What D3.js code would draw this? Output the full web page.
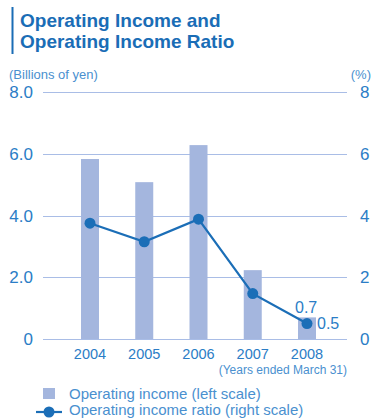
<!DOCTYPE html>
<html>
<head>
<meta charset="utf-8">
<script src="https://cdn.jsdelivr.net/npm/d3@7/dist/d3.min.js"></script>
<style>
  html, body { margin: 0; padding: 0; background: #fff; }
  svg { display: block; font-family: "Liberation Sans", Arial, Helvetica, sans-serif; }
</style>
</head>
<body>
<svg id="chart" width="372" height="418"></svg>
<script>
// Fiscal years (ended March 31)
const years = ["2004", "2005", "2006", "2007", "2008"];
// Operating income, billions of yen (left scale)
const operatingIncome = [5.83, 5.08, 6.28, 2.23, 0.7];
// Operating income ratio, % (right scale)
const operatingRatio = [3.75, 3.15, 3.88, 1.47, 0.5];
// Axis ticks
const leftTicks = [0, 2, 4, 6, 8];
const leftTickLabels = ["0", "2.0", "4.0", "6.0", "8.0"];
const rightTicks = [0, 2, 4, 6, 8];
const rightTickLabels = ["0", "2", "4", "6", "8"];

const titleLines = ["Operating Income and", "Operating Income Ratio"];

const C = {
  title: "#1a6db6",
  text: "#2b7dc6",
  soft: "#4a90cf",
  grid: "#a9bde6",
  bar: "#a4b6de",
  line: "#1b6eb7"
};

const svg = d3.select("#chart");

// Title with accent bar
svg.append("rect").attr("x", 11.5).attr("y", 7).attr("width", 2).attr("height", 47).attr("fill", C.title);
svg.append("g").selectAll("text").data(titleLines).join("text")
  .attr("x", 20).attr("y", (d, i) => 27 + i * 21)
  .attr("font-size", 19).attr("font-weight", "bold").attr("fill", C.title)
  .text(d => d);

// Scales
const x = d3.scalePoint().domain(years).range([90, 307]);
const yL = d3.scaleLinear().domain([0, 8]).range([339, 92]);
const yR = d3.scaleLinear().domain([0, 8]).range([339, 92]);
const plotLeft = 43, plotRight = 347, barW = 18;

// Unit captions
svg.append("text").attr("x", 9).attr("y", 79).attr("font-size", 13).attr("fill", C.soft).text("(Billions of yen)");
svg.append("text").attr("x", 371).attr("y", 79).attr("text-anchor", "end").attr("font-size", 13).attr("fill", C.soft).text("(%)");

// Gridlines
svg.append("g").selectAll("line").data(leftTicks).join("line")
  .attr("x1", plotLeft).attr("x2", plotRight)
  .attr("y1", d => Math.round(yL(d)) + 0.5).attr("y2", d => Math.round(yL(d)) + 0.5)
  .attr("stroke", C.grid).attr("stroke-width", 1.2);

// Left axis labels
svg.append("g").selectAll("text").data(leftTicks).join("text")
  .attr("x", 33).attr("y", d => yL(d) + 6)
  .attr("text-anchor", "end").attr("font-size", 17).attr("fill", C.text)
  .text((d, i) => leftTickLabels[i]);

// Right axis labels
svg.append("g").selectAll("text").data(rightTicks).join("text")
  .attr("x", 360).attr("y", d => yR(d) + 6)
  .attr("font-size", 17).attr("fill", C.text)
  .text((d, i) => rightTickLabels[i]);

// Bars
svg.append("g").selectAll("rect").data(operatingIncome).join("rect")
  .attr("x", (d, i) => x(years[i]) - barW / 2)
  .attr("width", barW)
  .attr("y", d => yL(d))
  .attr("height", d => yL(0) - yL(d))
  .attr("fill", C.bar);

// Ratio line
const line = d3.line().x((d, i) => x(years[i])).y(d => yR(d));
svg.append("path").datum(operatingRatio).attr("d", line)
  .attr("fill", "none").attr("stroke", C.line).attr("stroke-width", 2.2);
svg.append("g").selectAll("circle").data(operatingRatio).join("circle")
  .attr("cx", (d, i) => x(years[i])).attr("cy", d => yR(d)).attr("r", 5.5)
  .attr("fill", C.line);

// Value labels for the latest year
const last = years.length - 1;
svg.append("text").attr("x", x(years[last]) - 12).attr("y", yL(operatingIncome[last]) - 4)
  .attr("font-size", 16).attr("fill", C.text).text(operatingIncome[last].toFixed(1));
svg.append("text").attr("x", x(years[last]) + 10).attr("y", yR(operatingRatio[last]) + 5)
  .attr("font-size", 16).attr("fill", C.text).text(operatingRatio[last].toFixed(1));

// Year labels
svg.append("g").selectAll("text").data(years).join("text")
  .attr("x", d => x(d)).attr("y", 359)
  .attr("text-anchor", "middle").attr("font-size", 14.5).attr("fill", C.text)
  .text(d => d);
svg.append("text").attr("x", plotRight).attr("y", 374).attr("text-anchor", "end")
  .attr("font-size", 12).attr("fill", C.soft).text("(Years ended March 31)");

// Legend
svg.append("rect").attr("x", 43).attr("y", 388).attr("width", 12).attr("height", 11).attr("fill", C.bar);
svg.append("text").attr("x", 69).attr("y", 399).attr("font-size", 15).attr("fill", C.soft)
  .text("Operating income (left scale)");
svg.append("line").attr("x1", 36).attr("x2", 62).attr("y1", 412).attr("y2", 412)
  .attr("stroke", C.line).attr("stroke-width", 2.2);
svg.append("circle").attr("cx", 49).attr("cy", 412).attr("r", 5.5).attr("fill", C.line);
svg.append("text").attr("x", 69).attr("y", 415).attr("font-size", 15).attr("fill", C.soft)
  .text("Operating income ratio (right scale)");
</script>
</body>
</html>
